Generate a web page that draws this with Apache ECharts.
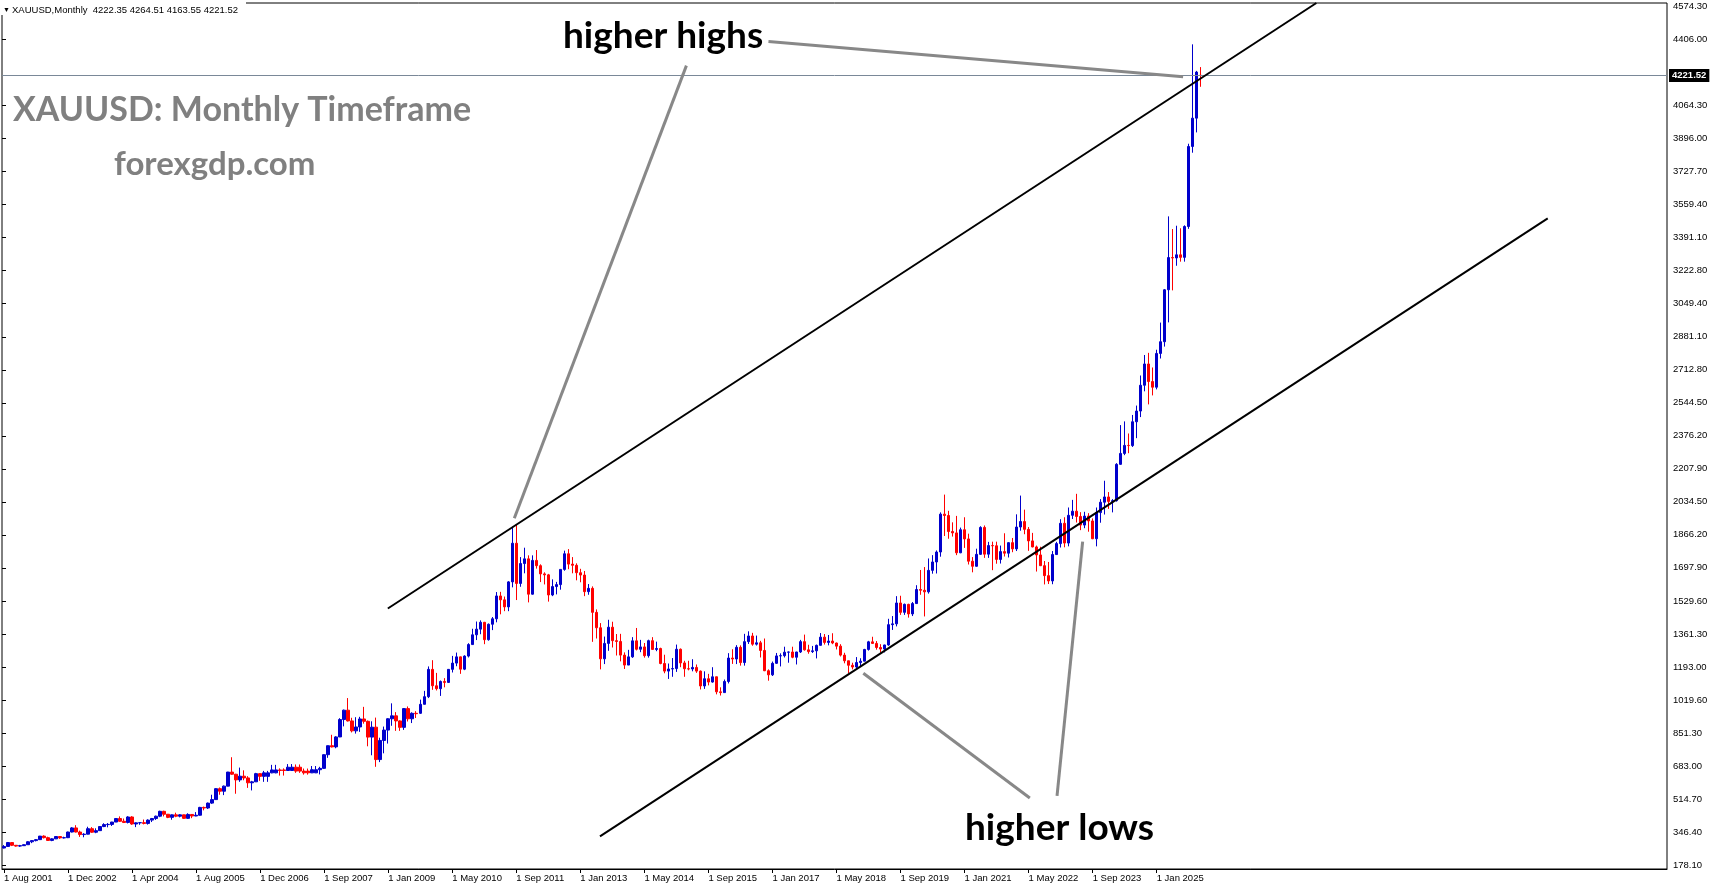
<!DOCTYPE html>
<html>
<head>
<meta charset="UTF-8">
<title>XAUUSD Monthly</title>
<script src="https://cdn.jsdelivr.net/npm/echarts@6/dist/echarts.min.js"></script>
<style>
html, body { margin:0; padding:0; background:#fff; }
#container { width:1714px; height:888px; }
</style>
</head>
<body>
<div id="container"></div>
<script type="text/javascript">
// time labels, one every 16 bars
var xTickLabels = ['1 Aug 2001','1 Dec 2002','1 Apr 2004','1 Aug 2005','1 Dec 2006','1 Sep 2007',
    '1 Jan 2009','1 May 2010','1 Sep 2011','1 Jan 2013','1 May 2014','1 Sep 2015','1 Jan 2017',
    '1 May 2018','1 Sep 2019','1 Jan 2021','1 May 2022','1 Sep 2023','1 Jan 2025'];

// price scale labels, bottom to top (the one under the price box is empty)
var yTickLabels = ['178.10','346.40','514.70','683.00','851.30','1019.60','1193.00','1361.30',
    '1529.60','1697.90','1866.20','2034.50','2207.90','2376.20','2544.50','2712.80','2881.10',
    '3049.40','3222.80','3391.10','3559.40','3727.70','3896.00','4064.30','','4406.00','4574.30'];

// monthly bars, Aug 2001 .. Dec 2025 (2007 Jan-Jul appear twice in the broker history)
var opens = [
    265,273,293,279,275,
    277,282,297,303,308,326,318,304,312,324,317,318,
    347,368,347,334,336,364,346,354,375,385,386,398,
    416,402,396,424,388,394,395,391,408,416,428,453,
    438,422,435,428,435,417,437,429,433,473,470,495,
    513,569,556,582,654,643,614,633,624,599,604,646,
    632,632,650,650,665,665,662,662,679,679,659,659,650,650,666,
    673,743,789,783,
    834,923,971,916,865,885,926,914,833,884,718,816,
    869,927,942,916,883,979,927,955,955,1001,1040,1180,
    1096,1081,1118,1113,1180,1212,1244,1181,1248,1307,1357,1386,
    1421,1332,1411,1439,1556,1536,1500,1628,1826,1620,1722,1746,
    1565,1738,1711,1669,1664,1561,1604,1614,1692,1772,1719,1713,
    1675,1663,1578,1595,1472,1393,1234,1313,1396,1327,1323,1253,
    1202,1244,1326,1283,1295,1250,1327,1282,1287,1210,1171,1182,
    1184,1283,1213,1183,1182,1190,1171,1095,1132,1115,1142,1065,
    1061,1118,1238,1233,1293,1215,1322,1351,1309,1316,1277,1173,
    1152,1211,1249,1250,1268,1269,1242,1269,1322,1280,1271,1275,
    1303,1345,1318,1325,1315,1299,1253,1224,1201,1192,1215,1222,
    1282,1321,1313,1292,1284,1305,1409,1413,1520,1472,1513,1464,
    1517,1589,1585,1577,1687,1730,1781,1975,1968,1886,1879,1777,
    1895,1848,1734,1708,1769,1907,1770,1814,1813,1743,1783,1775,
    1829,1797,1909,1937,1897,1838,1807,1766,1711,1660,1633,1768,
    1824,1928,1827,1969,1990,1963,1919,1965,1940,1849,1983,2036,
    2063,2040,2044,2230,2286,2327,2326,2448,2503,2635,2744,2654,
    2625,2798,2858,3124,3289,3287,3303,3290,3448,3858,4003,4222.35
];
var highs = [
    280,296,293,280,281,
    284,300,304,311,327,330,323,315,326,326,323,349,
    372,382,354,341,374,372,366,377,392,393,399,418,
    427,416,428,428,396,397,411,412,419,431,456,456,
    438,437,446,438,436,443,438,449,476,477,498,538,
    572,575,585,655,730,645,677,663,633,609,650,649,
    660,660,691,691,673,673,695,695,693,693,672,672,685,685,681,
    745,790,845,838,
    930,974,1033,932,935,937,988,918,914,933,830,887,
    930,1006,961,919,982,990,960,966,1025,1070,1195,1227,
    1162,1123,1135,1181,1249,1266,1245,1252,1314,1388,1425,1431,
    1423,1415,1448,1576,1577,1553,1632,1911,1921,1755,1803,1764,
    1764,1791,1718,1677,1669,1641,1628,1692,1788,1796,1755,1723,
    1695,1684,1617,1605,1487,1417,1348,1434,1424,1361,1362,1267,
    1280,1345,1392,1331,1315,1332,1345,1322,1291,1255,1210,1238,
    1307,1287,1224,1224,1232,1205,1174,1170,1157,1191,1143,1088,
    1128,1263,1283,1304,1303,1362,1375,1367,1353,1326,1338,1180,
    1220,1264,1262,1296,1271,1296,1270,1331,1358,1306,1300,1307,
    1366,1361,1356,1365,1317,1309,1265,1224,1214,1243,1237,1285,
    1326,1347,1325,1309,1306,1439,1453,1555,1557,1517,1516,1525,
    1611,1689,1704,1748,1765,1789,1984,2075,1992,1933,1966,1906,
    1959,1875,1755,1798,1913,1917,1833,1834,1834,1814,1877,1831,
    1853,1974,2070,1998,1909,1879,1814,1808,1735,1730,1786,1833,
    1949,1959,2009,2048,2079,1985,1987,1980,1953,2009,2052,2146,
    2088,2052,2236,2431,2450,2388,2483,2531,2685,2790,2801,2726,
    2817,2956,3128,3500,3435,3452,3439,3454,3872,4381,4245,4264.51
];
var lows = [
    263,271,275,272,271,
    277,282,290,299,306,314,302,300,311,312,314,316,
    345,345,322,320,335,343,341,354,372,371,378,398,
    399,393,391,384,372,384,386,385,398,409,423,427,
    418,410,423,422,414,414,418,428,431,458,465,491,
    513,538,536,581,640,543,604,612,573,560,603,609,
    604,604,648,648,636,636,660,660,650,650,641,641,649,649,642,
    670,727,780,776,
    833,888,913,857,851,860,902,786,740,681,705,750,
    800,891,865,865,870,913,905,931,952,1001,1033,1075,
    1072,1044,1088,1112,1164,1196,1157,1176,1241,1307,1330,1360,
    1309,1327,1381,1421,1462,1478,1478,1600,1535,1603,1672,1523,
    1563,1696,1627,1615,1527,1555,1564,1588,1685,1693,1672,1636,
    1626,1555,1562,1321,1338,1180,1207,1275,1292,1251,1221,1182,
    1202,1239,1277,1268,1240,1240,1281,1273,1206,1160,1131,1142,
    1167,1191,1142,1175,1170,1162,1077,1080,1098,1112,1052,1046,
    1061,1108,1208,1207,1199,1199,1310,1301,1302,1241,1171,1122,
    1146,1208,1195,1241,1214,1237,1205,1264,1276,1260,1264,1236,
    1302,1307,1303,1309,1282,1246,1211,1160,1180,1182,1196,1221,
    1276,1311,1281,1266,1267,1301,1382,1400,1459,1459,1445,1453,
    1517,1562,1451,1568,1670,1671,1757,1863,1849,1860,1765,1775,
    1802,1717,1677,1706,1766,1751,1751,1688,1721,1722,1758,1753,
    1780,1786,1890,1872,1787,1805,1681,1709,1615,1617,1616,1766,
    1804,1805,1810,1950,1932,1893,1903,1885,1847,1810,1931,1973,
    2002,1984,2039,2228,2277,2287,2319,2364,2472,2604,2537,2583,
    2614,2772,2833,2957,3121,3247,3268,3268,3436,3826,3930,4163.55
];
var closes = [
    273,293,279,275,277,
    282,297,303,308,326,318,304,312,324,317,318,347,
    368,347,334,336,364,346,354,375,385,386,398,416,
    402,396,424,388,394,395,391,408,416,428,453,438,
    422,435,428,435,417,437,429,433,473,470,495,513,
    569,556,582,654,643,614,633,624,599,604,646,632,
    650,650,665,665,662,662,679,679,659,659,650,650,666,666,673,
    743,789,783,834,
    923,971,916,865,885,926,914,833,884,718,816,869,
    927,942,916,883,979,927,955,953,1001,1040,1180,1096,
    1081,1118,1113,1180,1212,1244,1181,1248,1307,1357,1386,1421,
    1332,1411,1439,1556,1536,1500,1628,1826,1620,1722,1746,1565,
    1738,1711,1669,1664,1561,1604,1614,1692,1772,1719,1713,1675,
    1663,1578,1595,1472,1393,1234,1313,1396,1327,1323,1253,1202,
    1244,1326,1283,1295,1250,1327,1282,1287,1210,1171,1182,1184,
    1283,1213,1183,1182,1190,1171,1095,1132,1115,1142,1065,1061,
    1118,1238,1233,1293,1215,1322,1351,1309,1316,1277,1173,1152,
    1211,1249,1250,1268,1269,1242,1269,1322,1280,1271,1275,1303,
    1345,1318,1325,1315,1299,1253,1224,1201,1192,1215,1222,1282,
    1321,1313,1292,1284,1305,1409,1413,1520,1472,1513,1464,1517,
    1589,1585,1577,1687,1730,1781,1975,1968,1886,1879,1777,1895,
    1848,1734,1708,1769,1907,1770,1814,1813,1743,1783,1775,1829,
    1797,1909,1937,1897,1838,1807,1766,1711,1660,1633,1768,1824,
    1928,1827,1969,1990,1963,1919,1965,1940,1849,1983,2036,2063,
    2040,2044,2230,2286,2327,2326,2448,2503,2635,2744,2654,2625,
    2798,2858,3124,3289,3287,3303,3290,3448,3858,4003,4239,4221.52
];
var lastPrice = 4221.52;

// drawn objects, as [bar position, price]
var upperChannel = [[95.9, 1491.7], [327.9, 4592.7]];
var lowerChannel = [[148.9, 325.1], [385.7, 3489.6]];
var highsArrowA = [[170.5, 4272.1], [127.5, 1953.7]];
var highsArrowB = [[191.0, 4395.5], [294.6, 4215.3]];
var lowsArrowA = [[214.7, 1159.9], [256.3, 521.2]];
var lowsArrowB = [[263.1, 532.5], [269.5, 1833.8]];

var SLOTS = 416;          // bars that fit in the window (chart shift leaves empty room)
var PRICE_MIN = 157.6, PRICE_MAX = 4592.7;

var cats = [];
for (var i = 0; i < SLOTS; i++) cats.push(String(i));
var candles = [];
for (var i = 0; i < opens.length; i++) candles.push([opens[i], closes[i], lows[i], highs[i]]);

function showTime(index) {
    return index % 16 === 0 && index / 16 < xTickLabels.length;
}

function drawnLine(data, color, width) {
    return {
        type: 'line', xAxisIndex: 1, yAxisIndex: 0, data: data,
        symbol: 'none', silent: true, z: 5,
        lineStyle: { color: color, width: width }
    };
}

var font = 'Liberation Sans, Arial, sans-serif';
var dom = document.getElementById('container');
var myChart = echarts.init(dom);

var option = {
    animation: false,
    backgroundColor: '#fff',
    grid: [
        { left: 2, right: 47, top: 3, bottom: 19, show: true, borderColor: '#000', borderWidth: 1, backgroundColor: '#fff' },
        { left: 2, right: 47, top: 6.6, bottom: 23, show: false }
    ],
    xAxis: [
        {
            type: 'category', gridIndex: 0, data: cats, boundaryGap: true,
            axisLine: { show: true, lineStyle: { color: '#000', width: 1 } },
            axisTick: { show: true, alignWithLabel: true, length: 4, interval: showTime, lineStyle: { color: '#000' } },
            axisLabel: {
                interval: showTime, align: 'left', margin: 4,
                color: '#000', fontSize: 9.5, fontFamily: font,
                formatter: function (v, idx) { return xTickLabels[idx / 16] || ''; }
            },
            splitLine: { show: false }
        },
        { type: 'value', gridIndex: 0, min: -0.5, max: SLOTS - 0.5, show: false },
        { type: 'value', gridIndex: 1, min: 0, max: 1, show: false }
    ],
    yAxis: [
        { type: 'value', gridIndex: 0, min: PRICE_MIN, max: PRICE_MAX, show: false, splitLine: { show: false } },
        {
            type: 'category', gridIndex: 1, position: 'right', data: yTickLabels, boundaryGap: false,
            axisLine: { show: false },
            axisTick: { show: true, length: 4, lineStyle: { color: '#000' },
                interval: function (idx, v) { return v !== ''; } },
            axisLabel: { interval: 0, margin: 6, color: '#000', fontSize: 9.5, fontFamily: font },
            splitLine: { show: false }
        }
    ],
    series: [
        {
            type: 'candlestick', xAxisIndex: 0, yAxisIndex: 0, data: candles,
            barWidth: 3, z: 3,
            itemStyle: {
                color: '#0000cc', color0: '#ff0000',
                borderColor: '#0000cc', borderColor0: '#ff0000', borderWidth: 1
            },
            markLine: {
                silent: true, symbol: ['none', 'none'],
                data: [{ yAxis: lastPrice }],
                lineStyle: { color: '#7a8898', width: 1, type: 'solid' },
                label: {
                    show: true, position: 'end', distance: 2,
                    formatter: lastPrice.toFixed(2),
                    color: '#fff', backgroundColor: '#000', padding: [2, 3, 1, 3],
                    fontSize: 9.5, fontWeight: 'bold', fontFamily: font
                }
            }
        },
        drawnLine(upperChannel, '#000', 2),
        drawnLine(lowerChannel, '#000', 2),
        drawnLine(highsArrowA, '#888888', 3),
        drawnLine(highsArrowB, '#888888', 3),
        drawnLine(lowsArrowA, '#888888', 3),
        drawnLine(lowsArrowB, '#888888', 3)
    ],
    graphic: [
        { type: 'rect', left: 0, top: 0, z: 90, shape: { width: 246, height: 15 }, style: { fill: '#fff' } },
        { type: 'text', x: 3, y: 10, z: 100, style: { text: '\u25BC', font: '7px ' + font, fill: '#000', verticalAlign: 'middle' } },
        { type: 'text', x: 12, y: 10, z: 100, style: { text: 'XAUUSD,Monthly  4222.35 4264.51 4163.55 4221.52', font: '9.5px ' + font, fill: '#000', verticalAlign: 'middle' } },
        { type: 'text', x: 13, y: 110, z: 100, style: { text: 'XAUUSD: Monthly Timeframe', font: 'bold 34px Lato', fill: '#808080', verticalAlign: 'middle' } },
        { type: 'text', x: 114, y: 164, z: 100, style: { text: 'forexgdp.com', font: 'bold 33px Lato', fill: '#808080', verticalAlign: 'middle' } },
        { type: 'text', x: 563, y: 36, z: 100, style: { text: 'higher highs', font: 'bold 37px Lato', fill: '#000', verticalAlign: 'middle' } },
        { type: 'text', x: 965, y: 828, z: 100, style: { text: 'higher lows', font: 'bold 37px Lato', fill: '#000', verticalAlign: 'middle' } }
    ]
};

myChart.setOption(option);
</script>
</body>
</html>
